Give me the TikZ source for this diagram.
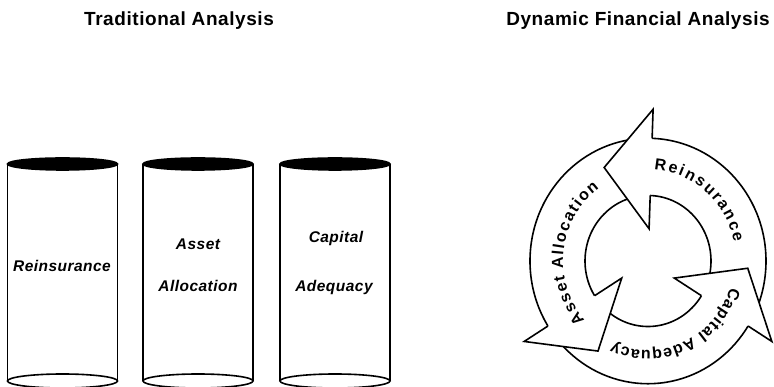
\documentclass[tikz,border=0pt]{standalone}
\usepackage{fontspec}
\setmainfont{Liberation Sans}
\newfontfamily\trk[LetterSpace=3]{Liberation Sans}
\newfontfamily\ringf{Liberation Sans Bold}
\usetikzlibrary{decorations.text}
\tikzset{
  ttl/.style={font={\trk\bfseries\fontsize{19}{22}\selectfont}, anchor=base, inner sep=0pt},
  ctext/.style={font={\trk\bfseries\itshape\fontsize{15.5}{18}\selectfont}, anchor=base, inner sep=0pt},
  ringtext/.style={decorate, decoration={text along path, text align=fit to path,
     text={|\ringf\fontsize{16}{18}\selectfont|#1}}},
  pics/cylinder/.style={code={
    \draw (-55,0) -- (-55,-217) (55,0) -- (55,-217);
    \draw (0,-217) ellipse [x radius=55, y radius=7];
    \filldraw (0,0) ellipse [x radius=55, y radius=6];
  }}
}
\begin{document}
\begin{tikzpicture}[x=1pt, y=1pt, line width=1.6pt]
\useasboundingbox (0,0) rectangle (774,387);
\clip (0,0) rectangle (774,387);
% titles
\node[ttl] (t1) at (179,361) {Traditional Analysis};
\node[ttl] (t2) at (638,361) {Dynamic Financial Analysis};
% cylinders
\pic (c1) at (62.5,223) {cylinder};
\pic (c2) at (198,223) {cylinder};
\pic (c3) at (335,223) {cylinder};
\node[ctext] (r1) at (62,115) {Reinsurance};
\node[ctext] (a1) at (198,137) {Asset};
\node[ctext] (a2) at (198,95) {Allocation};
\node[ctext] (k1) at (336,144) {Capital};
\node[ctext] (k2) at (334,95) {Adequacy};
% cycle
\begin{scope}[shift={(648,126)}, yscale=1.04]
  \draw (0,0) circle (118);
  \draw (0,0) circle (63);
  \foreach \b in {88,212,328}{
    \fill[white] (\b:146) -- (\b+28:100) -- (\b:31) -- cycle;
    \draw[line join=miter] (\b:118) -- (\b:146) -- (\b+28:100) -- (\b:31) -- (\b:63);
  }
  \path[ringtext={Reinsurance}] (86:88) arc[start angle=86, end angle=12, radius=88];
  \path[ringtext={Asset Allocation}] (222:85) arc[start angle=222, end angle=125, radius=85];
  \path[ringtext={Capital Adequacy}] (-17:86) arc[start angle=-17, end angle=-114, radius=86];
\end{scope}
\end{tikzpicture}
\end{document}
